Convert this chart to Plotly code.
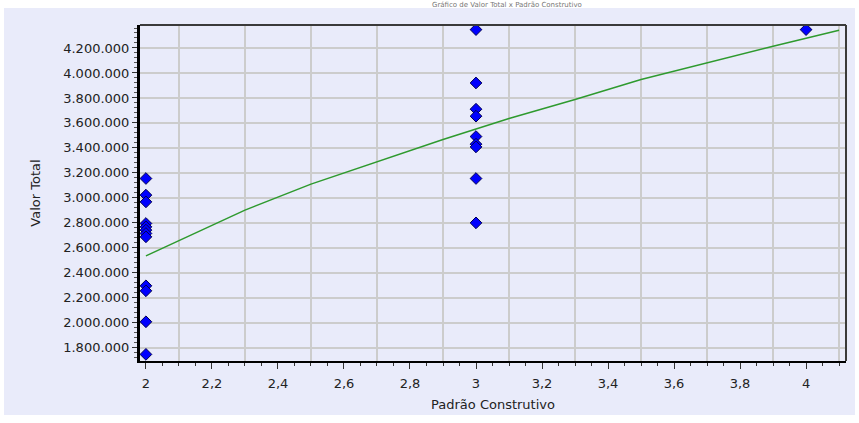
import plotly.graph_objects as go

# Data (values in R$)
padrao_2 = [2, 2, 2, 2, 2, 2, 2, 2, 2, 2, 2, 2]
valor_2 = [3155000, 3022000, 2968000, 2795000, 2768000, 2742000, 2715000, 2688000,
           2296000, 2256000, 2008000, 1747000]
padrao_3 = [3, 3, 3, 3, 3, 3, 3, 3, 3]
valor_3 = [4347000, 3920000, 3710000, 3654000, 3491000, 3430000, 3408000, 3155000, 2800000]
padrao_4 = [4]
valor_4 = [4347000]

trend_x = [2, 2.3, 2.5, 2.7, 2.9, 3.1, 3.3, 3.5, 3.7, 3.9, 4.1]
trend_y = [2536000, 2902000, 3110000, 3288000, 3467000, 3635000, 3787000, 3947000,
           4083000, 4214000, 4342000]

x_range = [1.982, 4.121]
y_range = [1694000, 4384000]

title_text = "Gráfico de Valor Total x Padrão Construtivo"
x_title = "Padrão Construtivo"
y_title = "Valor Total"

lav = "#E9EBFA"
font = dict(family="DejaVu Sans", size=13, color="#222222")

fig = go.Figure()

fig.add_trace(go.Scatter(
    x=trend_x, y=trend_y, mode="lines", xaxis="x2", yaxis="y",
    line=dict(color="#2E9A2E", width=1.5), showlegend=False, hoverinfo="skip"))

px = padrao_2 + padrao_3 + padrao_4
py = valor_2 + valor_3 + valor_4
fig.add_trace(go.Scatter(
    x=px, y=py, mode="markers",
    marker=dict(symbol="diamond", size=9, color="#0000FF",
                line=dict(color="#000050", width=1)),
    showlegend=False))

fig.update_layout(
    width=859, height=423,
    margin=dict(l=140, r=13, t=25, b=62),
    paper_bgcolor="white", plot_bgcolor=lav,
    separators=",.",
    font=font,
    xaxis=dict(range=x_range, tick0=2, dtick=0.2, showgrid=False, zeroline=False,
               ticks="outside", ticklen=6, tickcolor="#333", tickwidth=1,
               ticklabelstandoff=3,
               showline=True, linecolor="black", linewidth=2,
               minor=dict(dtick=0.05, tick0=2, ticks="outside", ticklen=3,
                          tickcolor="#333", showgrid=False),
               title=dict(text=x_title, standoff=10, font=font)),
    xaxis2=dict(range=x_range, overlaying="x", anchor="y", side="bottom",
                tick0=2.1, dtick=0.2, showgrid=True, gridcolor="#CCCCCC", gridwidth=1.5,
                showticklabels=False, ticks="", zeroline=False, showline=False),
    yaxis=dict(range=y_range, tick0=0, dtick=200000, tickformat=",.0f",
               showgrid=True, gridcolor="#CCCCCC", gridwidth=1.5, zeroline=False,
               ticks="outside", ticklen=5, tickcolor="#333",
               showline=True, linecolor="black", linewidth=3,
               minor=dict(dtick=40000, ticks="outside", ticklen=3, tickcolor="#555",
                          showgrid=False),
               title=dict(text=y_title, standoff=20, font=font)),
    shapes=[
        dict(type="rect", xref="paper", yref="paper", x0=-0.1926, x1=1.0127,
             y0=-0.1607, y1=1.0506, fillcolor=lav, line=dict(width=0), layer="below"),
        dict(type="line", xref="paper", yref="paper", x0=0, x1=1, y0=1, y1=1,
             line=dict(color="#3a3a3a", width=2)),
        dict(type="line", xref="paper", yref="paper", x0=1, x1=1, y0=0, y1=1,
             line=dict(color="#3a3a3a", width=2)),
    ],
    annotations=[
        dict(text=title_text, xref="paper", yref="paper",
             x=0.52, y=1.0744, yanchor="top", showarrow=False, borderpad=0,
             font=dict(family="DejaVu Sans", size=7, color="#777"))
    ],
)

fig.write_html("out.html", config={"displayModeBar": False},
               post_script="document.body.style.margin='0';")
